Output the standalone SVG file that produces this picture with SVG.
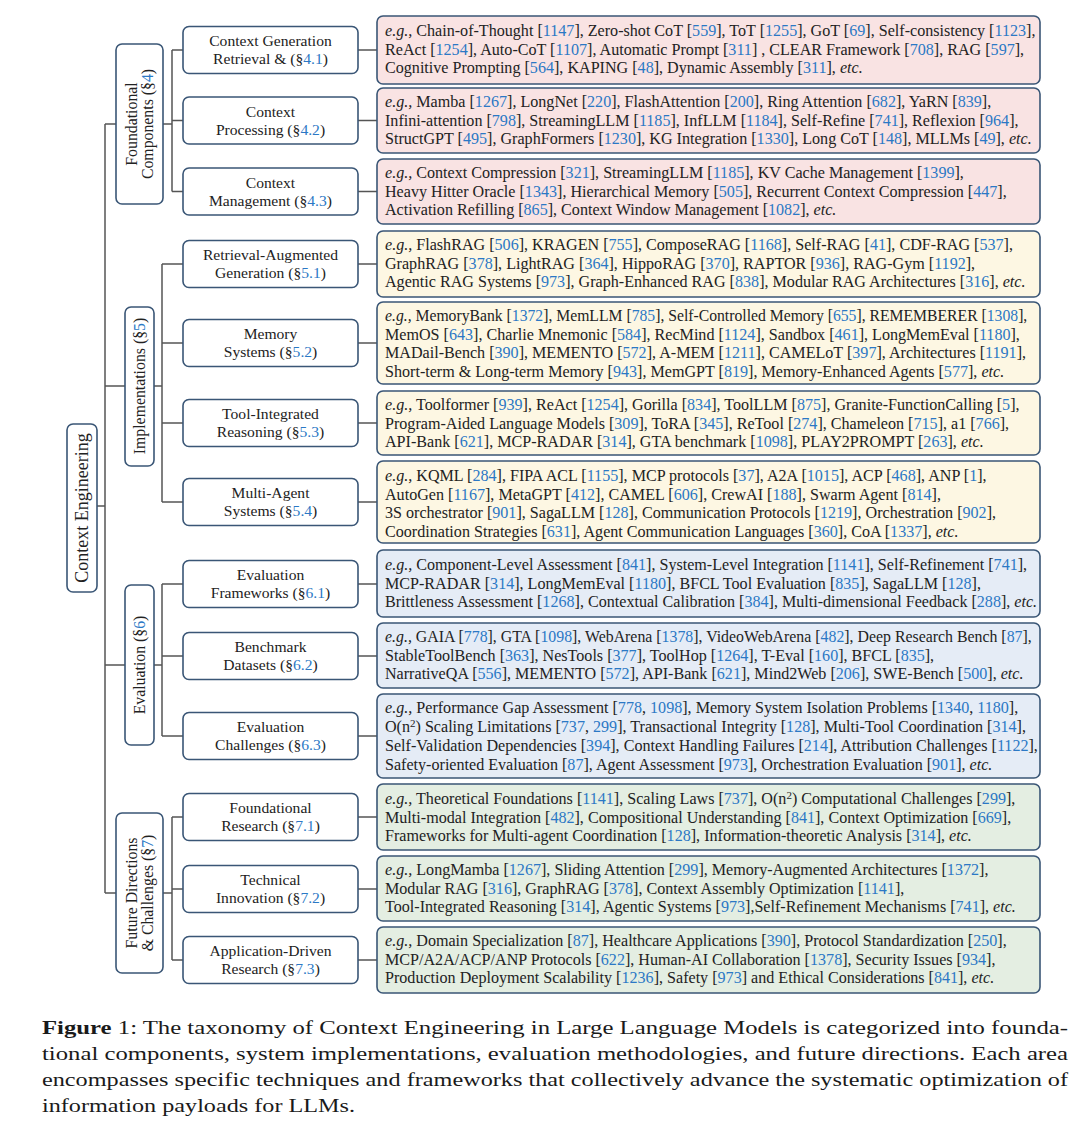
<svg xmlns="http://www.w3.org/2000/svg" width="1080" height="1134" viewBox="0 0 1080 1134">
<style>
.bg{fill:#ffffff}
.lb{fill:#ffffff;stroke:#3a5676;stroke-width:1.6}
.rb{stroke:#3a5676;stroke-width:1.6}
.red{fill:#f9e3e3}
.yel{fill:#fdf7e3}
.blu{fill:#e5ecf6}
.grn{fill:#e4eee2}
.conn{stroke:#555555;stroke-width:1.5;fill:none}
.t{font-family:"Liberation Serif","Times New Roman",serif;font-size:16.1px;fill:#222222}
.l{font-family:"Liberation Serif","Times New Roman",serif;font-size:15.6px;fill:#222222;text-anchor:middle}
.v{font-family:"Liberation Serif","Times New Roman",serif;font-size:15.8px;fill:#222222;text-anchor:middle}
.cap{font-family:"Liberation Serif","Times New Roman",serif;font-size:19.5px;fill:#1a1a1a}
.c{fill:#2b78c5}
.i{font-style:italic}
.b{font-weight:bold}
</style>
<rect class="bg" x="0" y="0" width="1080" height="1134"/>

<g id="connectors">
  <path class="conn" d="M97 506H105M105 124V893M105 124H116M105 386H125M105 665H125M105 893H116"/>
  <path class="conn" d="M163 124H172M172 50V191.5M172 50H183M172 120.5H183M172 191.5H183"/>
  <path class="conn" d="M154 386H162M162 264V502M162 264H183M162 343H183M162 423H183M162 502H183"/>
  <path class="conn" d="M154 665H162M162 584V736M162 584H183M162 656H183M162 736H183"/>
  <path class="conn" d="M163 893H172M172 817V960M172 817H183M172 889H183M172 960H183"/>
  <path class="conn" d="M358 50H377M358 120.5H377M358 191.5H377M358 264H377M358 343H377M358 423H377M358 502H377M358 584H377M358 656H377M358 736H377M358 817H377M358 889H377M358 960H377"/>
</g>

<g id="root">
  <rect class="lb" x="67" y="424" width="30" height="168" rx="6"/>
  <text class="v" style="font-size:18px" transform="translate(82,508) rotate(-90)" y="6">Context Engineering</text>
</g>

<g id="foundational">
  <rect class="lb" x="116" y="44" width="47" height="160" rx="6"/>
  <text class="v" transform="translate(139.5,124) rotate(-90)"><tspan x="0" y="-3">Foundational</tspan><tspan x="0" y="13">Components (§<tspan class="c">4</tspan>)</tspan></text>
</g>
<g id="implementations">
  <rect class="lb" x="125" y="307" width="29" height="159" rx="6"/>
  <text class="v" transform="translate(139.5,386) rotate(-90)" y="5">Implementations  (§<tspan class="c">5</tspan>)</text>
</g>
<g id="evaluation">
  <rect class="lb" x="125" y="585" width="29" height="160" rx="6"/>
  <text class="v" transform="translate(139.5,665) rotate(-90)" y="5">Evaluation  (§<tspan class="c">6</tspan>)</text>
</g>
<g id="future">
  <rect class="lb" x="116" y="813" width="47" height="160" rx="6"/>
  <text class="v" transform="translate(139.5,893) rotate(-90)"><tspan x="0" y="-3">Future Directions</tspan><tspan x="0" y="13">&amp; Challenges (§<tspan class="c">7</tspan>)</tspan></text>
</g>

<g id="n41"><rect class="lb" x="183" y="26.5" width="175" height="47" rx="6"/>
<text class="l"><tspan x="270.5" y="46">Context Generation</tspan><tspan x="270.5" y="64">Retrieval &amp;  (§<tspan class="c">4.1</tspan>)</tspan></text></g>
<g id="n42"><rect class="lb" x="183" y="97" width="175" height="47" rx="6"/>
<text class="l"><tspan x="270.5" y="116.5">Context</tspan><tspan x="270.5" y="134.5">Processing (§<tspan class="c">4.2</tspan>)</tspan></text></g>
<g id="n43"><rect class="lb" x="183" y="168" width="175" height="47" rx="6"/>
<text class="l"><tspan x="270.5" y="187.5">Context</tspan><tspan x="270.5" y="205.5">Management (§<tspan class="c">4.3</tspan>)</tspan></text></g>
<g id="n51"><rect class="lb" x="183" y="240.5" width="175" height="47" rx="6"/>
<text class="l"><tspan x="270.5" y="260">Retrieval-Augmented</tspan><tspan x="270.5" y="278">Generation (§<tspan class="c">5.1</tspan>)</tspan></text></g>
<g id="n52"><rect class="lb" x="183" y="319.5" width="175" height="47" rx="6"/>
<text class="l"><tspan x="270.5" y="339">Memory</tspan><tspan x="270.5" y="357">Systems (§<tspan class="c">5.2</tspan>)</tspan></text></g>
<g id="n53"><rect class="lb" x="183" y="399.5" width="175" height="47" rx="6"/>
<text class="l"><tspan x="270.5" y="419">Tool-Integrated</tspan><tspan x="270.5" y="437">Reasoning (§<tspan class="c">5.3</tspan>)</tspan></text></g>
<g id="n54"><rect class="lb" x="183" y="478.5" width="175" height="47" rx="6"/>
<text class="l"><tspan x="270.5" y="498">Multi-Agent</tspan><tspan x="270.5" y="516">Systems (§<tspan class="c">5.4</tspan>)</tspan></text></g>
<g id="n61"><rect class="lb" x="183" y="560.5" width="175" height="47" rx="6"/>
<text class="l"><tspan x="270.5" y="580">Evaluation</tspan><tspan x="270.5" y="598">Frameworks (§<tspan class="c">6.1</tspan>)</tspan></text></g>
<g id="n62"><rect class="lb" x="183" y="632.5" width="175" height="47" rx="6"/>
<text class="l"><tspan x="270.5" y="652">Benchmark</tspan><tspan x="270.5" y="670">Datasets (§<tspan class="c">6.2</tspan>)</tspan></text></g>
<g id="n63"><rect class="lb" x="183" y="712.5" width="175" height="47" rx="6"/>
<text class="l"><tspan x="270.5" y="732">Evaluation</tspan><tspan x="270.5" y="750">Challenges (§<tspan class="c">6.3</tspan>)</tspan></text></g>
<g id="n71"><rect class="lb" x="183" y="793.5" width="175" height="47" rx="6"/>
<text class="l"><tspan x="270.5" y="813">Foundational</tspan><tspan x="270.5" y="831">Research (§<tspan class="c">7.1</tspan>)</tspan></text></g>
<g id="n72"><rect class="lb" x="183" y="865.5" width="175" height="47" rx="6"/>
<text class="l"><tspan x="270.5" y="885">Technical</tspan><tspan x="270.5" y="903">Innovation (§<tspan class="c">7.2</tspan>)</tspan></text></g>
<g id="n73"><rect class="lb" x="183" y="936.5" width="175" height="47" rx="6"/>
<text class="l"><tspan x="270.5" y="956">Application-Driven</tspan><tspan x="270.5" y="974">Research (§<tspan class="c">7.3</tspan>)</tspan></text></g>

<g id="e41"><rect class="rb red" x="377" y="16" width="663" height="68" rx="6"/>
<text class="t" x="385" y="36"><tspan class="i">e.g.,</tspan> Chain-of-Thought [<tspan class="c">1147</tspan>], Zero-shot CoT [<tspan class="c">559</tspan>], ToT [<tspan class="c">1255</tspan>], GoT [<tspan class="c">69</tspan>], Self-consistency [<tspan class="c">1123</tspan>],</text>
<text class="t" x="385" y="54.5">ReAct [<tspan class="c">1254</tspan>], Auto-CoT [<tspan class="c">1107</tspan>], Automatic Prompt [<tspan class="c">311</tspan>] , CLEAR Framework [<tspan class="c">708</tspan>], RAG [<tspan class="c">597</tspan>],</text>
<text class="t" x="385" y="73">Cognitive Prompting [<tspan class="c">564</tspan>], KAPING [<tspan class="c">48</tspan>], Dynamic Assembly [<tspan class="c">311</tspan>], <tspan class="i">etc.</tspan></text></g>

<g id="e42"><rect class="rb red" x="377" y="88" width="663" height="65" rx="6"/>
<text class="t" x="385" y="107"><tspan class="i">e.g.,</tspan> Mamba [<tspan class="c">1267</tspan>], LongNet [<tspan class="c">220</tspan>], FlashAttention [<tspan class="c">200</tspan>], Ring Attention [<tspan class="c">682</tspan>], YaRN [<tspan class="c">839</tspan>],</text>
<text class="t" x="385" y="125.5">Infini-attention [<tspan class="c">798</tspan>], StreamingLLM [<tspan class="c">1185</tspan>], InfLLM [<tspan class="c">1184</tspan>], Self-Refine [<tspan class="c">741</tspan>], Reflexion [<tspan class="c">964</tspan>],</text>
<text class="t" x="385" y="144">StructGPT [<tspan class="c">495</tspan>], GraphFormers [<tspan class="c">1230</tspan>], KG Integration [<tspan class="c">1330</tspan>], Long CoT [<tspan class="c">148</tspan>], MLLMs [<tspan class="c">49</tspan>], <tspan class="i">etc.</tspan></text></g>

<g id="e43"><rect class="rb red" x="377" y="159" width="663" height="65" rx="6"/>
<text class="t" x="385" y="178"><tspan class="i">e.g.,</tspan> Context Compression [<tspan class="c">321</tspan>], StreamingLLM [<tspan class="c">1185</tspan>], KV Cache Management [<tspan class="c">1399</tspan>],</text>
<text class="t" x="385" y="196.5">Heavy Hitter Oracle [<tspan class="c">1343</tspan>], Hierarchical Memory [<tspan class="c">505</tspan>], Recurrent Context Compression [<tspan class="c">447</tspan>],</text>
<text class="t" x="385" y="215">Activation Refilling [<tspan class="c">865</tspan>], Context Window Management [<tspan class="c">1082</tspan>], <tspan class="i">etc.</tspan></text></g>

<g id="e51"><rect class="rb yel" x="377" y="231" width="663" height="66" rx="6"/>
<text class="t" x="385" y="250"><tspan class="i">e.g.,</tspan> FlashRAG [<tspan class="c">506</tspan>], KRAGEN [<tspan class="c">755</tspan>], ComposeRAG [<tspan class="c">1168</tspan>], Self-RAG [<tspan class="c">41</tspan>], CDF-RAG [<tspan class="c">537</tspan>],</text>
<text class="t" x="385" y="268.5">GraphRAG [<tspan class="c">378</tspan>], LightRAG [<tspan class="c">364</tspan>], HippoRAG [<tspan class="c">370</tspan>], RAPTOR [<tspan class="c">936</tspan>], RAG-Gym [<tspan class="c">1192</tspan>],</text>
<text class="t" x="385" y="287">Agentic RAG Systems [<tspan class="c">973</tspan>], Graph-Enhanced RAG [<tspan class="c">838</tspan>], Modular RAG Architectures [<tspan class="c">316</tspan>], <tspan class="i">etc.</tspan></text></g>

<g id="e52"><rect class="rb yel" x="377" y="302" width="663" height="82" rx="6"/>
<text class="t" x="385" y="321" style="font-size:15.7px"><tspan class="i">e.g.,</tspan> MemoryBank [<tspan class="c">1372</tspan>], MemLLM [<tspan class="c">785</tspan>], Self-Controlled Memory [<tspan class="c">655</tspan>], REMEMBERER [<tspan class="c">1308</tspan>],</text>
<text class="t" x="385" y="339.5">MemOS [<tspan class="c">643</tspan>], Charlie Mnemonic [<tspan class="c">584</tspan>], RecMind [<tspan class="c">1124</tspan>], Sandbox [<tspan class="c">461</tspan>], LongMemEval [<tspan class="c">1180</tspan>],</text>
<text class="t" x="385" y="358">MADail-Bench [<tspan class="c">390</tspan>], MEMENTO [<tspan class="c">572</tspan>], A-MEM [<tspan class="c">1211</tspan>], CAMELoT [<tspan class="c">397</tspan>], Architectures [<tspan class="c">1191</tspan>],</text>
<text class="t" x="385" y="376.5">Short-term &amp; Long-term Memory [<tspan class="c">943</tspan>], MemGPT [<tspan class="c">819</tspan>], Memory-Enhanced Agents [<tspan class="c">577</tspan>], <tspan class="i">etc.</tspan></text></g>

<g id="e53"><rect class="rb yel" x="377" y="391" width="663" height="64" rx="6"/>
<text class="t" x="385" y="410"><tspan class="i">e.g.,</tspan> Toolformer [<tspan class="c">939</tspan>], ReAct [<tspan class="c">1254</tspan>], Gorilla [<tspan class="c">834</tspan>], ToolLLM [<tspan class="c">875</tspan>], Granite-FunctionCalling [<tspan class="c">5</tspan>],</text>
<text class="t" x="385" y="428.5">Program-Aided Language Models [<tspan class="c">309</tspan>], ToRA [<tspan class="c">345</tspan>], ReTool [<tspan class="c">274</tspan>], Chameleon [<tspan class="c">715</tspan>], a1 [<tspan class="c">766</tspan>],</text>
<text class="t" x="385" y="447">API-Bank [<tspan class="c">621</tspan>], MCP-RADAR [<tspan class="c">314</tspan>], GTA benchmark [<tspan class="c">1098</tspan>], PLAY2PROMPT [<tspan class="c">263</tspan>], <tspan class="i">etc.</tspan></text></g>

<g id="e54"><rect class="rb yel" x="377" y="461" width="663" height="82" rx="6"/>
<text class="t" x="385" y="481"><tspan class="i">e.g.,</tspan> KQML [<tspan class="c">284</tspan>], FIPA ACL [<tspan class="c">1155</tspan>], MCP protocols [<tspan class="c">37</tspan>], A2A [<tspan class="c">1015</tspan>], ACP [<tspan class="c">468</tspan>], ANP [<tspan class="c">1</tspan>],</text>
<text class="t" x="385" y="499.5">AutoGen [<tspan class="c">1167</tspan>], MetaGPT [<tspan class="c">412</tspan>], CAMEL [<tspan class="c">606</tspan>], CrewAI [<tspan class="c">188</tspan>], Swarm Agent [<tspan class="c">814</tspan>],</text>
<text class="t" x="385" y="518">3S orchestrator [<tspan class="c">901</tspan>], SagaLLM [<tspan class="c">128</tspan>], Communication Protocols [<tspan class="c">1219</tspan>], Orchestration  [<tspan class="c">902</tspan>],</text>
<text class="t" x="385" y="536.5">Coordination Strategies [<tspan class="c">631</tspan>], Agent Communication Languages [<tspan class="c">360</tspan>], CoA [<tspan class="c">1337</tspan>], <tspan class="i">etc.</tspan></text></g>

<g id="e61"><rect class="rb blu" x="377" y="550" width="663" height="67" rx="6"/>
<text class="t" x="385" y="570"><tspan class="i">e.g.,</tspan> Component-Level Assessment [<tspan class="c">841</tspan>], System-Level Integration [<tspan class="c">1141</tspan>], Self-Refinement [<tspan class="c">741</tspan>],</text>
<text class="t" x="385" y="588.5">MCP-RADAR [<tspan class="c">314</tspan>], LongMemEval [<tspan class="c">1180</tspan>], BFCL Tool Evaluation [<tspan class="c">835</tspan>], SagaLLM  [<tspan class="c">128</tspan>],</text>
<text class="t" x="385" y="607">Brittleness Assessment [<tspan class="c">1268</tspan>], Contextual Calibration [<tspan class="c">384</tspan>], Multi-dimensional Feedback [<tspan class="c">288</tspan>], <tspan class="i">etc.</tspan></text></g>

<g id="e62"><rect class="rb blu" x="377" y="623" width="663" height="65" rx="6"/>
<text class="t" x="385" y="642" style="font-size:15.85px"><tspan class="i">e.g.,</tspan> GAIA [<tspan class="c">778</tspan>], GTA [<tspan class="c">1098</tspan>], WebArena [<tspan class="c">1378</tspan>], VideoWebArena [<tspan class="c">482</tspan>], Deep Research Bench [<tspan class="c">87</tspan>],</text>
<text class="t" x="385" y="660.5">StableToolBench [<tspan class="c">363</tspan>], NesTools [<tspan class="c">377</tspan>], ToolHop [<tspan class="c">1264</tspan>], T-Eval [<tspan class="c">160</tspan>], BFCL [<tspan class="c">835</tspan>],</text>
<text class="t" x="385" y="679">NarrativeQA [<tspan class="c">556</tspan>], MEMENTO [<tspan class="c">572</tspan>], API-Bank [<tspan class="c">621</tspan>], Mind2Web [<tspan class="c">206</tspan>], SWE-Bench [<tspan class="c">500</tspan>], <tspan class="i">etc.</tspan></text></g>

<g id="e63"><rect class="rb blu" x="377" y="694" width="663" height="84" rx="6"/>
<text class="t" x="385" y="713"><tspan class="i">e.g.,</tspan> Performance Gap Assessment [<tspan class="c">778</tspan>, <tspan class="c">1098</tspan>], Memory System Isolation Problems [<tspan class="c">1340</tspan>, <tspan class="c">1180</tspan>],</text>
<text class="t" x="385" y="732">O(n<tspan dy="-5" style="font-size:11px">2</tspan><tspan dy="5">) Scaling Limitations [</tspan><tspan class="c">737</tspan>, <tspan class="c">299</tspan>], Transactional Integrity [<tspan class="c">128</tspan>], Multi-Tool Coordination [<tspan class="c">314</tspan>],</text>
<text class="t" x="385" y="751">Self-Validation Dependencies [<tspan class="c">394</tspan>], Context Handling Failures [<tspan class="c">214</tspan>], Attribution Challenges [<tspan class="c">1122</tspan>],</text>
<text class="t" x="385" y="769.5">Safety-oriented Evaluation [<tspan class="c">87</tspan>], Agent Assessment [<tspan class="c">973</tspan>], Orchestration Evaluation [<tspan class="c">901</tspan>], <tspan class="i">etc.</tspan></text></g>

<g id="e71"><rect class="rb grn" x="377" y="784" width="663" height="66" rx="6"/>
<text class="t" x="385" y="804"><tspan class="i">e.g.,</tspan> Theoretical Foundations [<tspan class="c">1141</tspan>], Scaling Laws [<tspan class="c">737</tspan>], O(n<tspan dy="-5" style="font-size:11px">2</tspan><tspan dy="5">) Computational Challenges [</tspan><tspan class="c">299</tspan>],</text>
<text class="t" x="385" y="822.5">Multi-modal Integration [<tspan class="c">482</tspan>], Compositional Understanding [<tspan class="c">841</tspan>], Context Optimization [<tspan class="c">669</tspan>],</text>
<text class="t" x="385" y="841">Frameworks for Multi-agent Coordination [<tspan class="c">128</tspan>], Information-theoretic Analysis [<tspan class="c">314</tspan>], <tspan class="i">etc.</tspan></text></g>

<g id="e72"><rect class="rb grn" x="377" y="856" width="663" height="65" rx="6"/>
<text class="t" x="385" y="875"><tspan class="i">e.g.,</tspan> LongMamba [<tspan class="c">1267</tspan>], Sliding Attention [<tspan class="c">299</tspan>], Memory-Augmented Architectures [<tspan class="c">1372</tspan>],</text>
<text class="t" x="385" y="893.5">Modular RAG [<tspan class="c">316</tspan>], GraphRAG [<tspan class="c">378</tspan>], Context Assembly Optimization [<tspan class="c">1141</tspan>],</text>
<text class="t" x="385" y="912">Tool-Integrated Reasoning [<tspan class="c">314</tspan>], Agentic Systems [<tspan class="c">973</tspan>],Self-Refinement Mechanisms [<tspan class="c">741</tspan>], <tspan class="i">etc.</tspan></text></g>

<g id="e73"><rect class="rb grn" x="377" y="927" width="663" height="66" rx="6"/>
<text class="t" x="385" y="946"><tspan class="i">e.g.,</tspan> Domain Specialization [<tspan class="c">87</tspan>], Healthcare Applications [<tspan class="c">390</tspan>], Protocol Standardization [<tspan class="c">250</tspan>],</text>
<text class="t" x="385" y="964.5">MCP/A2A/ACP/ANP Protocols [<tspan class="c">622</tspan>], Human-AI Collaboration [<tspan class="c">1378</tspan>], Security Issues [<tspan class="c">934</tspan>],</text>
<text class="t" x="385" y="983">Production Deployment Scalability [<tspan class="c">1236</tspan>], Safety  [<tspan class="c">973</tspan>] and Ethical Considerations [<tspan class="c">841</tspan>], <tspan class="i">etc.</tspan></text></g>

<g id="caption">
<text class="cap" x="42" y="1034" textLength="1026" lengthAdjust="spacingAndGlyphs"><tspan class="b">Figure</tspan> 1: The taxonomy of Context Engineering in Large Language Models is categorized into founda-</text>
<text class="cap" x="42" y="1060" textLength="1026" lengthAdjust="spacingAndGlyphs">tional components, system implementations, evaluation methodologies, and future directions. Each area</text>
<text class="cap" x="42" y="1086" textLength="1026" lengthAdjust="spacingAndGlyphs">encompasses specific techniques and frameworks that collectively advance the systematic optimization of</text>
<text class="cap" x="42" y="1112" textLength="313" lengthAdjust="spacingAndGlyphs">information payloads for LLMs.</text>
</g>
</svg>
